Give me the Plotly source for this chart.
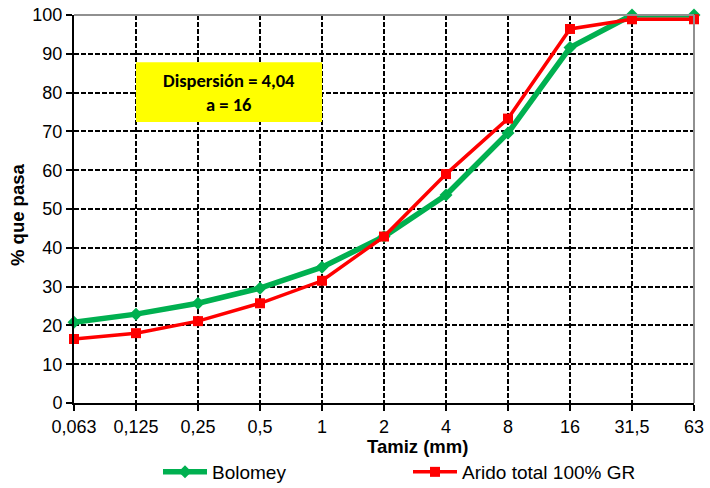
import plotly.graph_objects as go

tamices = ["0,063", "0,125", "0,25", "0,5", "1", "2", "4", "8", "16", "31,5", "63"]
bolomey = [20.8, 22.9, 25.7, 29.6, 35.0, 42.9, 53.6, 69.6, 91.6, 100.0, 100.0]
arido = [16.5, 18.0, 21.1, 25.7, 31.5, 42.9, 59.0, 73.3, 96.4, 98.9, 98.9]
y_ticks = [0, 10, 20, 30, 40, 50, 60, 70, 80, 90, 100]

xpos = list(range(len(tamices)))

L, R, T, B = 74, 16, 15, 85
PW, PH = 710 - L - R, 488 - T - B


def px_x(p):
    return (p - L) / PW


def px_y(p):
    return (488 - B - p) / PH


fig = go.Figure()
fig.add_trace(go.Scatter(
    x=xpos, y=bolomey, name="Bolomey", mode="lines+markers",
    line=dict(color="#00B050", width=5.5),
    marker=dict(symbol="diamond", size=10, color="#00B050"),
    cliponaxis=False, legend="legend",
))
fig.add_trace(go.Scatter(
    x=xpos, y=arido, name="Arido total 100% GR", mode="lines+markers",
    line=dict(color="#FF0000", width=3.5),
    marker=dict(symbol="square", size=10, color="#FF0000"),
    cliponaxis=False, legend="legend2",
))

legend_common = dict(orientation="h", xanchor="left", yanchor="middle",
                     font=dict(size=19), bgcolor="rgba(0,0,0,0)",
                     itemwidth=44)
fig.update_layout(
    width=710, height=488,
    margin=dict(l=L, r=R, t=T, b=B, autoexpand=False),
    paper_bgcolor="white", plot_bgcolor="white",
    font=dict(family="Liberation Sans, Arial, sans-serif", size=18, color="black"),
    showlegend=True,
    legend=dict(x=px_x(158), y=px_y(472), **legend_common),
    legend2=dict(x=px_x(408), y=px_y(472), **legend_common),
)
fig.update_xaxes(
    range=[0, 10], tickmode="array", tickvals=xpos, ticktext=tamices,
    showgrid=True, gridcolor="black", griddash="5px,2px", gridwidth=1.5,
    showline=True, linecolor="black", linewidth=2,
    ticks="outside", ticklen=6, tickcolor="black", tickwidth=2,
    zeroline=False, tickfont=dict(size=18), automargin=False,
)
fig.update_yaxes(
    range=[0, 100], tickmode="array", tickvals=y_ticks,
    showgrid=True, gridcolor="black", griddash="5px,2px", gridwidth=1.5,
    showline=True, linecolor="black", linewidth=2,
    ticks="outside", ticklen=6, tickcolor="black", tickwidth=2,
    zeroline=False, tickfont=dict(size=18), automargin=False,
)

# gray top and right borders
fig.add_shape(type="line", xref="paper", yref="paper", x0=0, x1=1, y0=1, y1=1,
              line=dict(color="#909090", width=2))
fig.add_shape(type="line", xref="paper", yref="paper", x0=1, x1=1, y0=0, y1=1,
              line=dict(color="#909090", width=2))

# yellow text box
fig.add_shape(type="rect", xref="x", yref="y", x0=1, x1=4, y0=72.4, y1=87.8,
              fillcolor="#FFFF00", line=dict(width=0), layer="above")
fig.add_annotation(x=2.5, y=80.0, xref="x", yref="y",
                   text="<b>Dispersión = 4,04<br>a = 16</b>", showarrow=False,
                   font=dict(family="Carlito, Calibri, Liberation Sans, sans-serif", size=18.5, color="black"))

# axis titles
fig.add_annotation(x=px_x(417), y=px_y(446), xref="paper", yref="paper",
                   xanchor="center", yanchor="middle",
                   text="<b>Tamiz (mm)</b>", showarrow=False, font=dict(size=18.5))
fig.add_annotation(x=px_x(18), y=px_y(215), xref="paper", yref="paper",
                   xanchor="center", yanchor="middle", textangle=-90,
                   text="<b>% que pasa</b>", showarrow=False, font=dict(size=18.5))

fig.write_html("out.html", config={"displayModeBar": False})

# remove default page margin so the figure sits at the window's corner
with open("out.html", "r", encoding="utf-8") as f:
    html = f.read()
html = html.replace("<head>", "<head><style>html,body{margin:0;padding:0;overflow:hidden}</style>", 1)
with open("out.html", "w", encoding="utf-8") as f:
    f.write(html)
